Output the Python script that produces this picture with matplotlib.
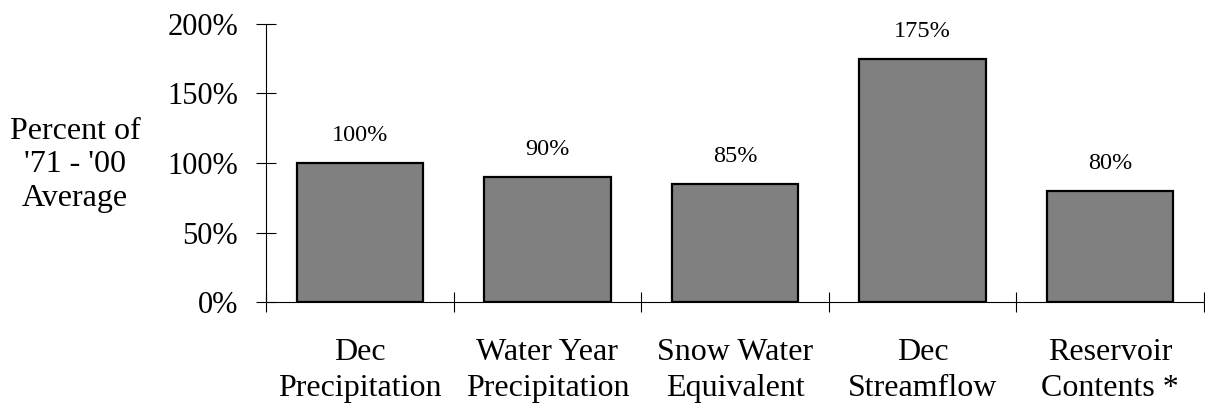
import matplotlib.pyplot as plt
import numpy as np

categories = ["Dec\nPrecipitation", "Water Year\nPrecipitation", "Snow Water\nEquivalent",
              "Dec\nStreamflow", "Reservoir\nContents *"]
values = [100, 90, 85, 175, 80]
y_ticks = [0, 50, 100, 150, 200]

plt.rcParams['font.family'] = ['Liberation Serif', 'DejaVu Serif']

fig = plt.figure(figsize=(12.05, 4.08), dpi=100)
ax = fig.add_axes([266 / 1205, 106 / 408, 938 / 1205, 278 / 408])

x = np.arange(len(categories))
ax.bar(x, values, width=0.674, color="#808080", edgecolor="black", linewidth=1.6, zorder=2)

for xi, v in zip(x, values):
    ax.annotate(f"{v}%", (xi, v), xytext=(0, 12), textcoords="offset points",
                ha="center", va="bottom", fontsize=17.5)

ax.set_xlim(-0.5, len(categories) - 0.5)
ax.set_ylim(0, 200)

ax.set_yticks(y_ticks)
ax.set_yticklabels([f"{t}%" for t in y_ticks], fontsize=22)
ax.tick_params(axis="y", direction="inout", length=14, width=0.8, pad=13)

ax.set_xticks(x)
ax.set_xticklabels(categories, fontsize=23, linespacing=1.33)
ax.tick_params(axis="x", which="major", length=0, pad=26)
ax.set_xticks(np.arange(len(categories) + 1) - 0.5, minor=True)
ax.tick_params(axis="x", which="minor", direction="inout", length=14, width=0.8)

for s in ["top", "right"]:
    ax.spines[s].set_visible(False)
for s in ["left", "bottom"]:
    ax.spines[s].set_linewidth(0.8)

fig.text(75 / 1205, 1 - 165 / 408, "Percent of\n'71 - '00\nAverage", fontsize=23,
         ha="center", va="center", linespacing=1.2)

fig.savefig("out.png", dpi=100)
